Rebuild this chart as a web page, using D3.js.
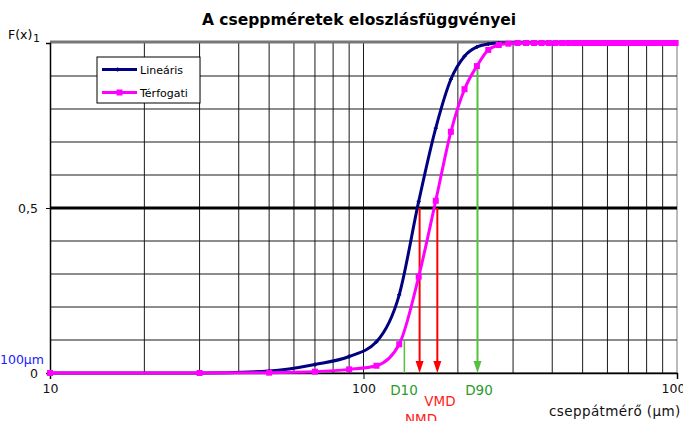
<!DOCTYPE html>
<html>
<head>
<meta charset="utf-8">
<script src="https://cdn.jsdelivr.net/npm/d3@7"></script>
<style>
  body { margin: 0; background: #fff; }
  text { font-family: "DejaVu Sans", sans-serif; }
</style>
</head>
<body>
<div class="chart"></div>
<script>
// droplet sizes (um) and cumulative distributions
var sizes = [10, 30, 50, 70, 90, 110, 130, 150, 170, 190, 210, 230, 250, 270, 290, 310, 330, 350,
  370, 390, 410, 430, 450, 470, 490, 510, 530, 550, 570, 590, 610, 630, 650, 670, 690,
  710, 730, 750, 770, 790, 810, 830, 850, 870, 890, 910, 930, 950, 970, 990];
var linear = [0, 0, 0.006, 0.026, 0.05, 0.095, 0.237, 0.52, 0.742, 0.89, 0.96, 0.988, 0.997, 1, 1, 1, 1, 1,
  1, 1, 1, 1, 1, 1, 1, 1, 1, 1, 1, 1, 1, 1, 1, 1, 1,
  1, 1, 1, 1, 1, 1, 1, 1, 1, 1, 1, 1, 1, 1, 1];
var volume = [0, 0, 0.001, 0.004, 0.011, 0.022, 0.087, 0.292, 0.522, 0.731, 0.86, 0.93, 0.979, 0.994, 0.998, 1, 1, 1,
  1, 1, 1, 1, 1, 1, 1, 1, 1, 1, 1, 1, 1, 1, 1, 1, 1,
  1, 1, 1, 1, 1, 1, 1, 1, 1, 1, 1, 1, 1, 1, 1];

// characteristic diameters
var markLabels = ["D10", "NMD", "VMD", "D90"];
var markSizes = [135, 151, 172, 231];
var markFrom = [0.1, 0.5, 0.5, 0.927];

var xGrid = [20, 30, 40, 50, 60, 70, 80, 90, 100, 200, 300, 400, 500, 600, 700, 800, 900, 1000];
var yGrid = [0, 0.1, 0.2, 0.3, 0.4, 0.6, 0.7, 0.8, 0.9];
var xTicks = [10, 100, 1000];
var yTicks = [0, 0.5, 1];

var W = 683, H = 421;
var pLeft = 50, pRight = 677, pTop = 43, pBottom = 373;
var font = "'DejaVu Sans', sans-serif";

var svg = d3.select(".chart").append("svg")
  .attr("width", W).attr("height", H);

var x = d3.scaleLog().domain([10, 1000]).range([pLeft, pRight]);
var y = d3.scaleLinear().domain([0, 1]).range([pBottom, pTop]);

// grid
svg.append("g").selectAll("line").data(xGrid).join("line")
  .attr("x1", d => x(d)).attr("x2", d => x(d))
  .attr("y1", pTop).attr("y2", pBottom)
  .attr("stroke", d => d == 1000 ? "#777" : "#1a1a1a").attr("stroke-width", 1);
svg.append("g").selectAll("line").data(yGrid).join("line")
  .attr("x1", pLeft).attr("x2", pRight)
  .attr("y1", d => y(d)).attr("y2", d => y(d))
  .attr("stroke", "#1a1a1a").attr("stroke-width", 1);
svg.append("line")
  .attr("x1", pLeft).attr("x2", pRight).attr("y1", y(0.5)).attr("y2", y(0.5))
  .attr("stroke", "#000").attr("stroke-width", 3);
svg.append("line")
  .attr("x1", pLeft).attr("x2", pRight).attr("y1", y(1) - 1).attr("y2", y(1) - 1)
  .attr("stroke", "#777").attr("stroke-width", 3);

// axes
var xAxis = svg.append("g")
  .attr("transform", `translate(0, ${pBottom})`)
  .call(d3.axisBottom(x).tickValues(xTicks).tickFormat(d3.format("d")).tickSize(6).tickPadding(5));
var yAxis = svg.append("g")
  .attr("transform", `translate(${pLeft}, 0)`)
  .call(d3.axisLeft(y).tickValues(yTicks).tickFormat(d => String(d).replace(".", ",")).tickSize(4).tickPadding(8));
[xAxis, yAxis].forEach(a => {
  a.select(".domain").attr("stroke", "#000").attr("stroke-width", 1.5);
  a.selectAll("text").attr("font-size", 12.5).attr("fill", "#111")
    .attr("font-family", font);
  a.selectAll(".tick line").attr("stroke", "#000");
});
yAxis.selectAll(".tick").filter(d => d == 1).select("text")
  .attr("x", -10).attr("dy", "-0.1em").attr("font-size", 11);

// curves
var line = d3.line().x(d => x(d[0])).y(d => y(d[1])).curve(d3.curveMonotoneX);
var linData = sizes.map((s, i) => [s, linear[i]]);
var volData = sizes.map((s, i) => [s, volume[i]]);

svg.append("path").datum(linData).attr("d", line)
  .attr("fill", "none").attr("stroke", "#000080").attr("stroke-width", 3);
svg.append("g").selectAll("path").data(linData).join("path")
  .attr("d", d => `M${x(d[0]) - 2},${y(d[1])}h4M${x(d[0])},${y(d[1]) - 2}v4`)
  .attr("stroke", "#000080").attr("stroke-width", 1.5);

// arrows
var col = ["#55c040", "#ff0000", "#ff0000", "#55c040"];
markSizes.forEach((s, i) => {
  var head = i > 0;
  svg.append("line")
    .attr("x1", x(s)).attr("x2", x(s))
    .attr("y1", y(markFrom[i])).attr("y2", head ? y(0) - 8 : y(0))
    .attr("stroke", col[i]).attr("stroke-width", i == 0 ? 1.5 : 2);
  if (head) {
    svg.append("path")
      .attr("d", `M${x(s) - 4},${y(0) - 12}L${x(s) + 4},${y(0) - 12}L${x(s)},${y(0)}Z`)
      .attr("fill", col[i]);
  }
});

svg.append("path").datum(volData).attr("d", line)
  .attr("fill", "none").attr("stroke", "#ff00ff").attr("stroke-width", 3);
svg.append("g").selectAll("rect").data(volData).join("rect")
  .attr("x", d => x(d[0]) - 3).attr("y", d => y(d[1]) - 3)
  .attr("width", 6).attr("height", 6).attr("fill", "#ff00ff");

// labels under the arrows
var labCol = ["#2a9a2a", "#ff2020", "#ff2020", "#2a9a2a"];
var labX = [404, 421, 440, 479];
var labY = [395, 424, 406, 395];
markLabels.forEach((t, i) => {
  svg.append("text").text(t)
    .attr("x", labX[i]).attr("y", labY[i])
    .attr("text-anchor", "middle").attr("font-size", 13.5).attr("fill", labCol[i]);
});

// title + axis texts
svg.append("text").text("A cseppméretek eloszlásfüggvényei")
  .attr("x", 359).attr("y", 25).attr("text-anchor", "middle")
  .attr("font-size", 15.5).attr("font-weight", "bold").attr("fill", "#000");
svg.append("text").text("F(x)").attr("x", 8).attr("y", 39).attr("font-size", 12.5);
svg.append("text").text("100µm").attr("x", 0).attr("y", 364)
  .attr("font-size", 12.5).attr("fill", "#2020ff");
svg.append("text").text("cseppátmérő (µm)").attr("x", 549).attr("y", 416)
  .attr("font-size", 13.5).attr("letter-spacing", 0.4).attr("fill", "#111");

// legend
var lg = svg.append("g").attr("transform", "translate(97, 57)");
lg.append("rect").attr("width", 103).attr("height", 46)
  .attr("fill", "#fff").attr("stroke", "#000");
var legNames = ["Lineáris", "Térfogati"];
var legCols = ["#000080", "#ff00ff"];
legNames.forEach((n, i) => {
  var ly = 12.5 + i * 23;
  lg.append("line").attr("x1", 5).attr("x2", 40).attr("y1", ly).attr("y2", ly)
    .attr("stroke", legCols[i]).attr("stroke-width", 3);
  if (i == 0) {
    lg.append("path").attr("d", `M20.5,${ly - 2}v4`).attr("stroke", legCols[i]).attr("stroke-width", 1.5);
  } else {
    lg.append("rect").attr("x", 19.5).attr("y", ly - 3).attr("width", 6).attr("height", 6).attr("fill", legCols[i]);
  }
  lg.append("text").text(n).attr("x", 43).attr("y", ly + 4).attr("font-size", 11).attr("fill", "#000");
});
</script>
</body>
</html>
